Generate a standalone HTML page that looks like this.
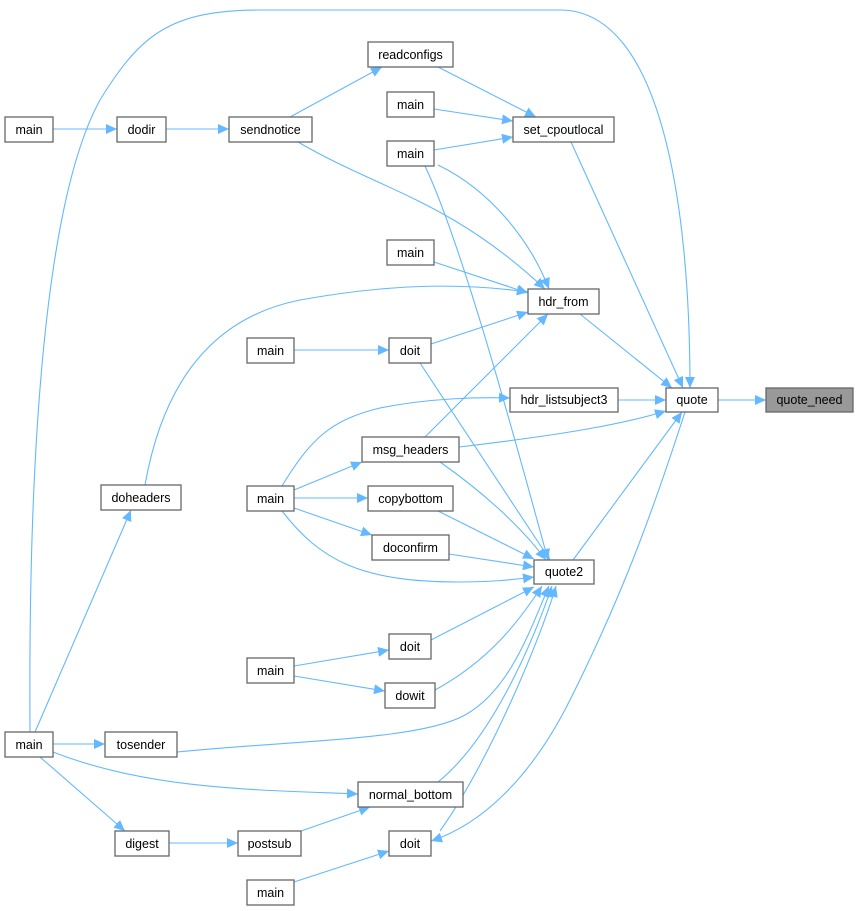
<!DOCTYPE html>
<html><head><meta charset="utf-8"><style>
html,body{margin:0;padding:0;background:#fff}
svg{display:block}
text{font-family:"Liberation Sans",Arial,sans-serif;font-size:12.5px;fill:#000;text-anchor:middle}
.b{fill:#fff;stroke:#666;stroke-width:1.3}
.e{fill:none;stroke:#63b8ff;stroke-width:1.1;marker-end:url(#a)}
</style></head><body>
<svg width="859" height="911" viewBox="0 0 859 911" xmlns="http://www.w3.org/2000/svg">
<defs><marker id="a" markerUnits="userSpaceOnUse" markerWidth="12" markerHeight="10" refX="11" refY="5" orient="auto"><path d="M0,0 L11,5 L0,10 z" fill="#63b8ff"/></marker></defs>
<g>
<path class="e" d="M53,129 L117,129"/>
<path class="e" d="M166,129 L229,129"/>
<path class="e" d="M290,117 L382,67"/>
<path class="e" d="M438,67 L536,117"/>
<path class="e" d="M434,109 L513,121"/>
<path class="e" d="M434,150 L513,137"/>
<path class="e" d="M571,142 L683,388"/>
<path class="e" d="M298,142 C380,190 450,200 545,289"/>
<path class="e" d="M438,165 C490,190 530,240 549,289"/>
<path class="e" d="M434,262 L528,293"/>
<path class="e" d="M145,485 C160,400 200,320 300,300 C400,282 470,284 528,292"/>
<path class="e" d="M431,344 L528,312"/>
<path class="e" d="M425,437 L548,314"/>
<path class="e" d="M580,314 L672,388"/>
<path class="e" d="M294,350 L389,350"/>
<path class="e" d="M618,400 L666,400"/>
<path class="e" d="M718,400 L766,400"/>
<path class="e" d="M459,447 C560,435 620,425 666,411"/>
<path class="e" d="M282,486 C310,440 330,420 380,408 C430,398 480,397 510,398"/>
<path class="e" d="M294,490 L362,462"/>
<path class="e" d="M294,498 L368,498"/>
<path class="e" d="M294,508 L372,535"/>
<path class="e" d="M282,511 C320,560 360,582 460,582 C490,582 510,580 534,577"/>
<path class="e" d="M425,166 C460,240 510,420 548,560"/>
<path class="e" d="M420,363 L550,560"/>
<path class="e" d="M440,462 C480,490 520,525 546,560"/>
<path class="e" d="M438,511 L534,559"/>
<path class="e" d="M449,554 L534,567"/>
<path class="e" d="M573,560 L682,412"/>
<path class="e" d="M431,640 L534,587"/>
<path class="e" d="M435,690 C490,660 520,620 542,586"/>
<path class="e" d="M177,752 C300,740 420,740 465,715 C510,690 530,630 549,586"/>
<path class="e" d="M438,782 C490,740 530,650 552,586"/>
<path class="e" d="M440,831 C490,760 540,640 556,586"/>
<path class="e" d="M685,412 C650,520 620,600 570,700 C530,780 480,825 431,841"/>
<path class="e" d="M30,732 C28,450 45,200 100,100 C140,35 170,10 260,10 L560,10 C660,10 690,200 690,388"/>
<path class="e" d="M35,732 L131,510"/>
<path class="e" d="M53,744 L105,744"/>
<path class="e" d="M53,752 C150,790 260,790 358,794"/>
<path class="e" d="M40,757 L125,831"/>
<path class="e" d="M169,843 L238,843"/>
<path class="e" d="M301,831 L370,807"/>
<path class="e" d="M294,882 L389,851"/>
<path class="e" d="M294,666 L389,650"/>
<path class="e" d="M294,676 L385,691"/>
</g>
<g>
<rect class="b" x="5" y="117" width="48" height="25"/><text x="29" y="134">main</text>
<rect class="b" x="117" y="117" width="49" height="25"/><text x="141.5" y="134">dodir</text>
<rect class="b" x="229" y="117" width="83" height="25"/><text x="270.5" y="134">sendnotice</text>
<rect class="b" x="368" y="42" width="85" height="25"/><text x="410.5" y="59">readconfigs</text>
<rect class="b" x="387" y="92" width="47" height="25"/><text x="410.5" y="109">main</text>
<rect class="b" x="387" y="141" width="47" height="25"/><text x="410.5" y="158">main</text>
<rect class="b" x="513" y="117" width="101" height="25"/><text x="563.5" y="134">set_cpoutlocal</text>
<rect class="b" x="387" y="240" width="47" height="25"/><text x="410.5" y="257">main</text>
<rect class="b" x="528" y="289" width="71" height="25"/><text x="563.5" y="306">hdr_from</text>
<rect class="b" x="247" y="338" width="47" height="25"/><text x="270.5" y="355">main</text>
<rect class="b" x="389" y="338" width="42" height="25"/><text x="410" y="355">doit</text>
<rect class="b" x="510" y="388" width="108" height="24"/><text x="564" y="404">hdr_listsubject3</text>
<rect class="b" x="666" y="388" width="52" height="24"/><text x="692" y="404">quote</text>
<rect x="766" y="388" width="87" height="24" fill="#999" stroke="#666" stroke-width="1.3"/><text x="809.5" y="404">quote_need</text>
<rect class="b" x="362" y="437" width="97" height="25"/><text x="410.5" y="454">msg_headers</text>
<rect class="b" x="101" y="485" width="80" height="25"/><text x="141" y="502">doheaders</text>
<rect class="b" x="247" y="486" width="47" height="25"/><text x="270.5" y="503">main</text>
<rect class="b" x="368" y="486" width="85" height="25"/><text x="410.5" y="503">copybottom</text>
<rect class="b" x="372" y="535" width="77" height="25"/><text x="410.5" y="552">doconfirm</text>
<rect class="b" x="534" y="560" width="60" height="24"/><text x="564" y="576">quote2</text>
<rect class="b" x="389" y="634" width="42" height="25"/><text x="410" y="651">doit</text>
<rect class="b" x="247" y="658" width="47" height="25"/><text x="270.5" y="675">main</text>
<rect class="b" x="385" y="683" width="50" height="25"/><text x="410" y="700">dowit</text>
<rect class="b" x="5" y="732" width="48" height="25"/><text x="29" y="749">main</text>
<rect class="b" x="105" y="732" width="72" height="25"/><text x="141" y="749">tosender</text>
<rect class="b" x="358" y="782" width="105" height="25"/><text x="410.5" y="799">normal_bottom</text>
<rect class="b" x="115" y="831" width="54" height="25"/><text x="142" y="848">digest</text>
<rect class="b" x="238" y="831" width="63" height="25"/><text x="269.5" y="848">postsub</text>
<rect class="b" x="389" y="831" width="42" height="25"/><text x="410" y="848">doit</text>
<rect class="b" x="247" y="880" width="47" height="25"/><text x="270.5" y="897">main</text>
</g>
</svg>
</body></html>
